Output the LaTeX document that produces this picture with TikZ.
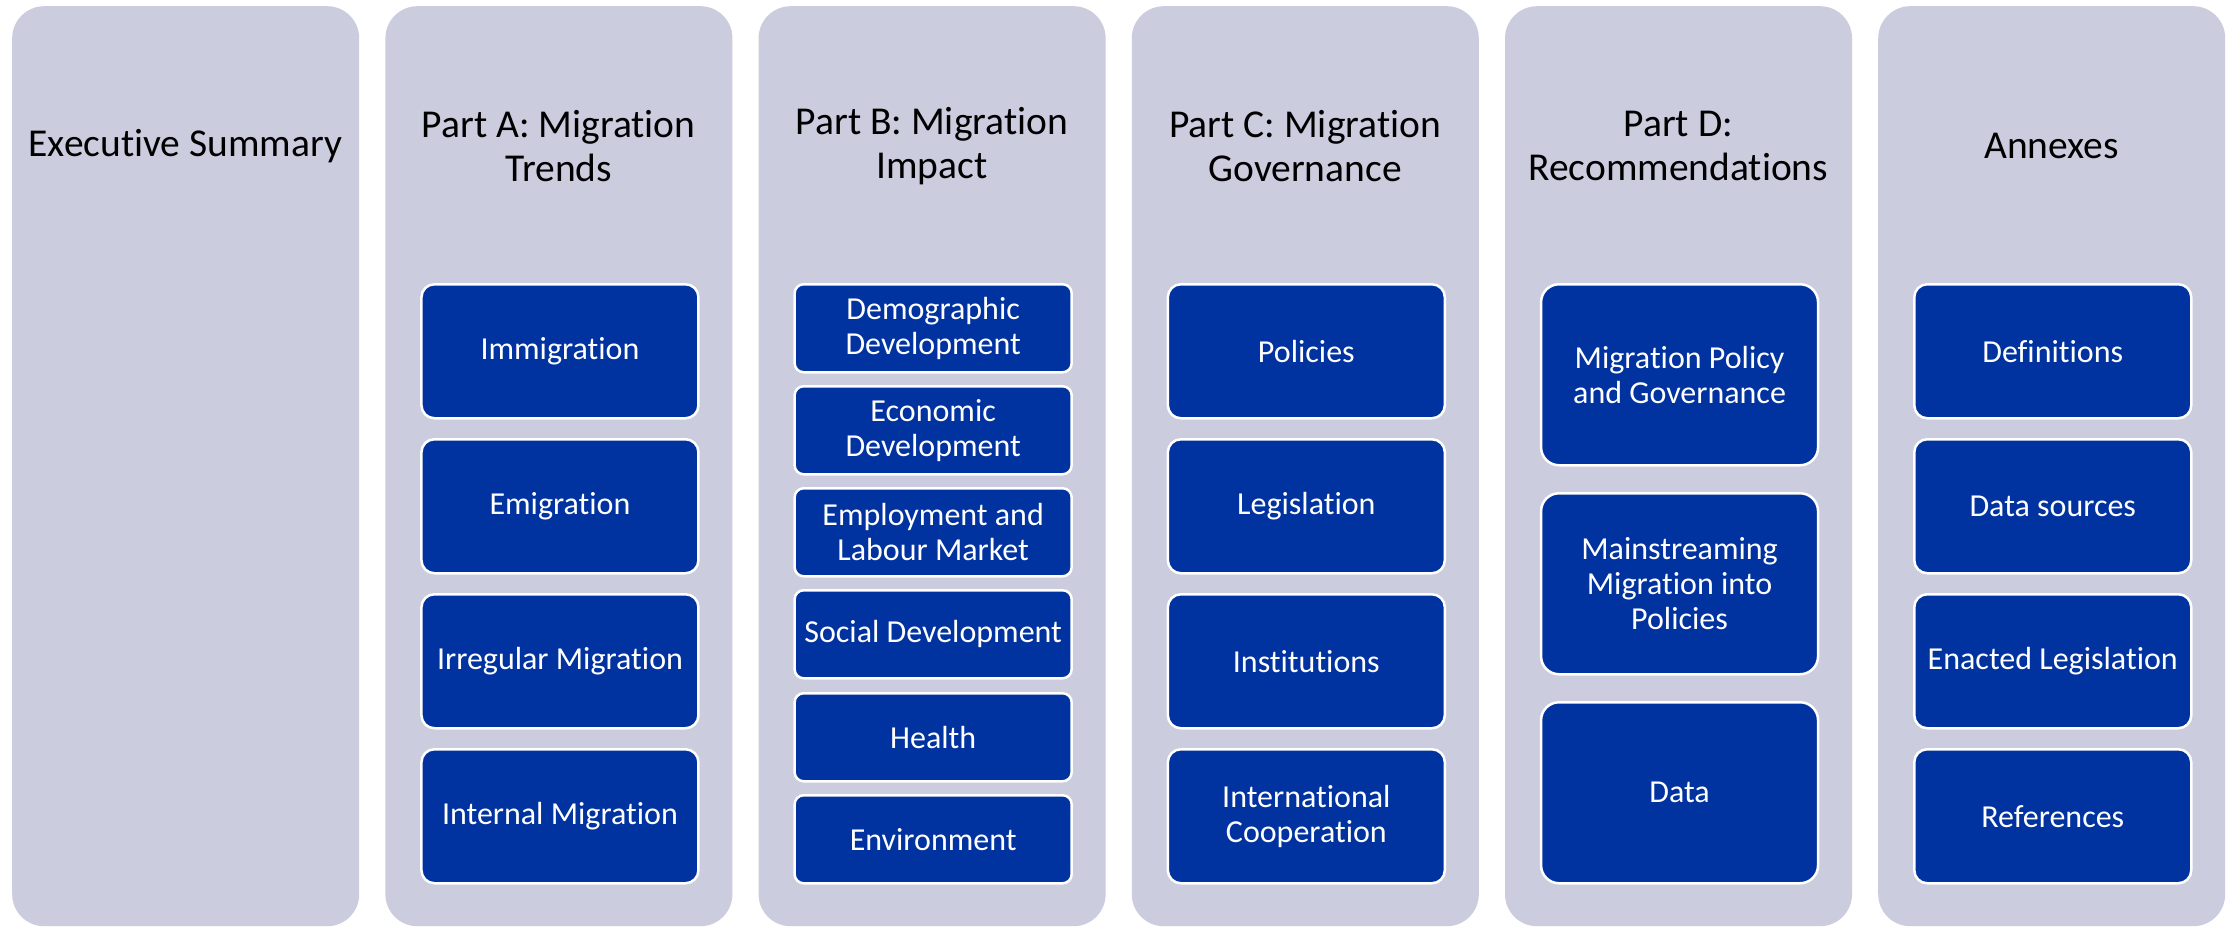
\documentclass[tikz,border=0pt]{standalone}
\usepackage{fontspec}
\setmainfont{Carlito}[Ligatures={NoCommon}]
\definecolor{colfill}{HTML}{CBCCDE}
\definecolor{boxfill}{HTML}{0033A0}
\begin{document}
\begin{tikzpicture}[x=1pt,y=-1pt,
  column/.style={fill=colfill, rounded corners=32pt, minimum width=347pt, minimum height=920pt, inner sep=0pt, anchor=north west},
  head/.style={font=\fontsize{39.5}{44}\selectfont, align=center, text=black, inner sep=0pt},
  item/.style={fill=boxfill, draw=white, line width=2.5pt, text=white, font=\fontsize{32}{35}\selectfont, align=center, minimum width=277pt, inner sep=0pt, anchor=north west},
  itemA/.style={item, minimum height=134pt, rounded corners=13pt},
  itemB/.style={item, minimum height=88pt, rounded corners=9pt},
  itemD/.style={item, minimum height=181pt, rounded corners=18pt},
]
\useasboundingbox (0,0) rectangle (2234,927);
\fill[white] (0,0) rectangle (2234,927);

% columns
\node[column] (c0) at (12,6) {};
\node[column] (c1) at (385.2,6) {};
\node[column] (c2) at (758.4,6) {};
\node[column] (c3) at (1131.6,6) {};
\node[column] (c4) at (1504.8,6) {};
\node[column] (c5) at (1878,6) {};

% headings
\node[head] (h0) at (185.5,146) {Executive Summary};
\node[head] (h1) at (558.7,146) {Part A: Migration\\Trends};
\node[head] (h2) at (931.9,146) {Part B: Migration\\Impact};
\node[head] (h3) at (1305.1,146) {Part C: Migration\\Governance};
\node[head] (h4) at (1678.3,146) {Part D:\\Recommendations};
\node[head] (h5) at (2051.5,146) {Annexes};

% Part A
\node[itemA] (a1) at (420.2,283) {Immigration};
\node[itemA] (a2) at (420.2,438) {Emigration};
\node[itemA] (a3) at (420.2,593) {Irregular Migration};
\node[itemA] (a4) at (420.2,748) {Internal Migration};

% Part B
\node[itemB] (b1) at (793.4,283) {Demographic\\Development};
\node[itemB] (b2) at (793.4,385) {Economic\\Development};
\node[itemB] (b3) at (793.4,487) {Employment and\\Labour Market};
\node[itemB] (b4) at (793.4,589) {Social Development};
\node[itemB] (b5) at (793.4,692) {Health};
\node[itemB] (b6) at (793.4,794) {Environment};

% Part C
\node[itemA] (p1) at (1166.6,283) {Policies};
\node[itemA] (p2) at (1166.6,438) {Legislation};
\node[itemA] (p3) at (1166.6,593) {Institutions};
\node[itemA] (p4) at (1166.6,748) {International\\Cooperation};

% Part D
\node[itemD] (d1) at (1539.8,283) {Migration Policy\\and Governance};
\node[itemD] (d2) at (1539.8,492) {Mainstreaming\\Migration into\\Policies};
\node[itemD] (d3) at (1539.8,701) {Data};

% Annexes
\node[itemA] (x1) at (1913,283) {Definitions};
\node[itemA] (x2) at (1913,438) {Data sources};
\node[itemA] (x3) at (1913,593) {Enacted Legislation};
\node[itemA] (x4) at (1913,748) {References};
\end{tikzpicture}
\end{document}
